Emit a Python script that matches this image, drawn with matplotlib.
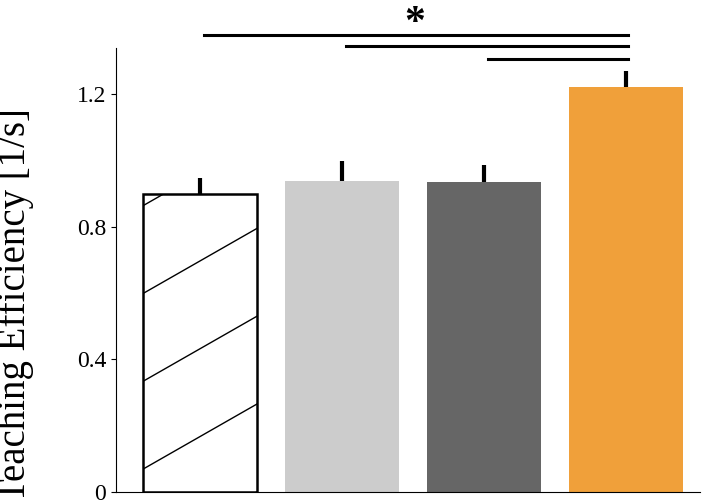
import matplotlib
matplotlib.use("Agg")
import matplotlib.pyplot as plt
import numpy as np

plt.rcParams['font.family'] = ['Liberation Serif', 'DejaVu Serif']

conditions = ["A", "B", "C", "D"]
means = [0.90, 0.938, 0.935, 1.221]
errors = [0.047, 0.06, 0.051, 0.051]
colors = ["white", "#cccccc", "#666666", "#f0a03a"]
sig_pairs = [(0, 3), (1, 3), (2, 3)]
sig_levels = [1.378, 1.345, 1.308]
yticks = [0, 0.4, 0.8, 1.2]
ytick_labels = ["0", "0.4", "0.8", "1.2"]

fig = plt.figure(figsize=(7.14, 5.0), dpi=100)
ax = fig.add_axes([116/714, 8/500, 584/714, 444/500])
x = list(range(len(conditions)))
width = 0.8
bars = ax.bar(x, means, width=width, color=colors, zorder=2)
bars[0].set_edgecolor("black"); bars[0].set_linewidth(1.8)

# sparse diagonal hatch for the first bar, clipped to the bar
b0 = bars[0]
rise = 0.196
spacing = 0.265
x0, x1 = b0.get_x(), b0.get_x() + b0.get_width()
for off in np.arange(-rise, means[0] + spacing, spacing):
    ln, = ax.plot([x0, x1], [off, off + rise], color="black", lw=1.0, zorder=2.5)
    ln.set_clip_path(b0)

for xi, m, e in zip(x, means, errors):
    ax.plot([xi, xi], [m, m + e], color="black", lw=3, zorder=3, solid_capstyle="butt")
for (a, b), lvl in zip(sig_pairs, sig_levels):
    ax.plot([a + 0.03, b + 0.01], [lvl, lvl], color="black", lw=2.2, clip_on=False)
ax.text(1.515, 1.412, "*", ha="center", va="center", fontsize=30, fontweight="bold")
ax.set_xlim(-0.59, 3.52)
ax.set_ylim(0, 1.34)
ax.set_yticks(yticks)
ax.set_yticklabels(ytick_labels, fontsize=17)
ax.set_xticks([])
ax.set_ylabel("Teaching Efficiency [1/s]", fontsize=28)
ax.yaxis.set_label_coords(-0.14, 0.42)
ax.spines['top'].set_visible(False)
ax.spines['right'].set_visible(False)
fig.savefig("out.png", dpi=100)
